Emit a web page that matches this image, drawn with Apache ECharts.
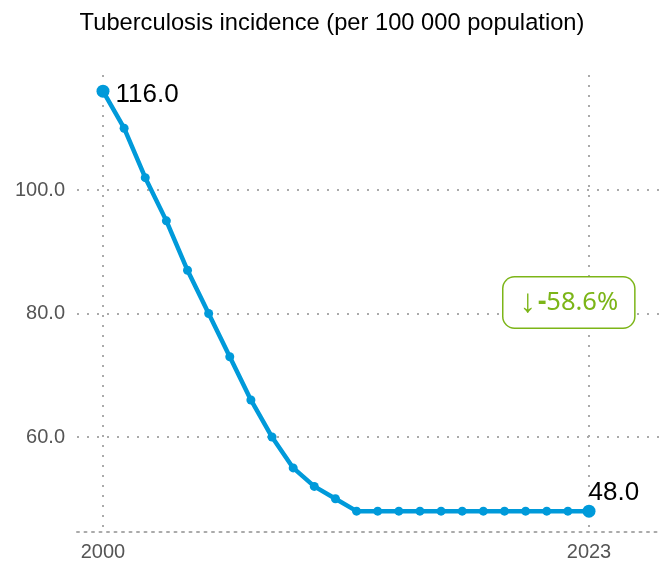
<!DOCTYPE html>
<html>
<head>
<meta charset="utf-8">
<script src="https://cdn.jsdelivr.net/npm/echarts@6/dist/echarts.min.js"></script>
<style>
  html, body { margin: 0; padding: 0; background: #fff; }
  #chart { width: 664px; height: 565px; }
</style>
</head>
<body>
<div id="chart"></div>
<script>
var years = [2000, 2001, 2002, 2003, 2004, 2005, 2006, 2007, 2008, 2009, 2010, 2011,
             2012, 2013, 2014, 2015, 2016, 2017, 2018, 2019, 2020, 2021, 2022, 2023];
var incidence = [116, 110, 102, 95, 87, 80, 73, 66, 60, 55, 52, 50,
                 48, 48, 48, 48, 48, 48, 48, 48, 48, 48, 48, 48];
var xTicks = [2000, 2023];
var yTicks = [60, 80, 100];
var changeLabel = '-58.6%';

var chart = echarts.init(document.getElementById('chart'));
var lastIdx = years.length - 1;
var points = years.map(function (y, i) {
    var p = { value: [y, incidence[i]] };
    if (i === 0 || i === lastIdx) {
        p.symbolSize = 13;
        p.label = {
            show: true,
            formatter: function (d) { return d.value[1].toFixed(1); },
            position: i === 0 ? [19, -3] : [6, -25],
            color: '#000',
            fontSize: 26,
            fontFamily: 'Liberation Sans'
        };
    }
    return p;
});

var dotted = { color: '#aaaaaa', type: [2, 8], width: 2 };

chart.setOption({
    animation: false,
    title: {
        text: 'Tuberculosis incidence (per 100 000 population)',
        left: 'center',
        top: 6,
        textStyle: { fontFamily: 'Liberation Sans', fontWeight: 'normal', fontSize: 23.7, color: '#000' }
    },
    grid: { left: 77, right: 4, top: 75, bottom: 33 },
    xAxis: {
        type: 'value',
        min: 1998.77,
        max: 2026.36,
        axisLine: { show: true, lineStyle: { color: '#aaaaaa', type: [2, 5.5], width: 2 } },
        axisTick: { show: false, customValues: xTicks },
        axisLabel: {
            customValues: xTicks,
            formatter: function (v) { return String(v); },
            color: '#555',
            fontSize: 20,
            fontFamily: 'Liberation Sans',
            margin: 10
        },
        splitLine: { show: true, lineStyle: dotted }
    },
    yAxis: {
        type: 'value',
        min: 44.62,
        max: 118.62,
        axisLine: { show: false },
        axisTick: { show: false, customValues: yTicks },
        axisLabel: {
            customValues: yTicks,
            formatter: function (v) { return v.toFixed(1); },
            color: '#555',
            fontSize: 20,
            fontFamily: 'Liberation Sans',
            margin: 12
        },
        splitLine: { show: true, lineStyle: dotted }
    },
    series: [{
        type: 'line',
        data: points,
        symbol: 'circle',
        symbolSize: 9,
        lineStyle: { color: '#009ada', width: 4.5 },
        itemStyle: { color: '#009ada' },
        z: 5
    }],
    graphic: [{
        type: 'text',
        left: 502,
        top: 276,
        z: 10,
        style: {
            text: '{a|↓}{b|-}{c|' + changeLabel.slice(1) + '}',
            backgroundColor: '#fff',
            borderColor: '#7cb518',
            borderWidth: 1.5,
            borderRadius: 11,
            padding: [10, 16, 10, 16],
            rich: {
                a: { fill: '#7cb518', fontSize: 33, lineHeight: 30, fontFamily: 'Liberation Sans', padding: [0, 2, 0, 0] },
                b: { fill: '#7cb518', fontSize: 26, lineHeight: 30, fontWeight: 'bold', fontFamily: 'Noto Sans' },
                c: { fill: '#7cb518', fontSize: 25.5, lineHeight: 30, fontFamily: 'Noto Sans' }
            }
        }
    }]
});
</script>
</body>
</html>
